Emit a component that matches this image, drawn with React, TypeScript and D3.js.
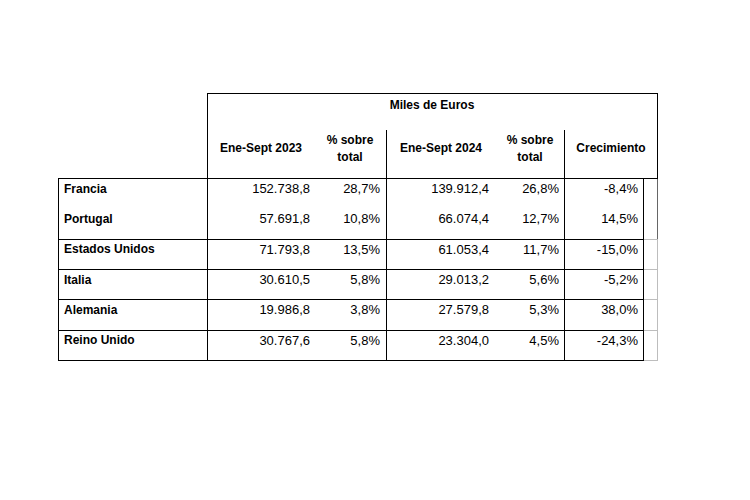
import React from 'react';
import * as d3 from 'd3';

const width = 750, height = 500;

// table data
const countries = ['Francia', 'Portugal', 'Estados Unidos', 'Italia', 'Alemania', 'Reino Unido'];
const values2023 = [152738.8, 57691.8, 71793.8, 30610.5, 19986.8, 30767.6];
const share2023 = [28.7, 10.8, 13.5, 5.8, 3.8, 5.8];
const values2024 = [139912.4, 66074.4, 61053.4, 29013.2, 27579.8, 23304.0];
const share2024 = [26.8, 12.7, 11.7, 5.6, 5.3, 4.5];
const growth = [-8.4, 14.5, -15.0, -5.2, 38.0, -24.3];

const groupTitle = 'Miles de Euros';
const headers = [['Ene-Sept 2023'], ['% sobre', 'total'], ['Ene-Sept 2024'], ['% sobre', 'total'], ['Crecimiento']];

// spanish number format, plain hyphen for negatives
const es = d3.formatLocale({ decimal: ',', thousands: '.', grouping: [3], currency: ['', '€'], minus: '-' });
const fmtVal = es.format(',.1f');
const fmtPct = (v: number) => es.format('.1f')(v) + '%';

// grid positions
const left = 58, firstCol = 207, col3 = 386, col5 = 564, bodyRight = 643, right = 657;
const top = 93, subTop = 130, headBottom = 178, bottom = 360;

const font = "'Liberation Sans', Arial, sans-serif";

export default function App() {
    const yScale = d3.scaleBand<string>()
        .domain(countries)
        .range([headBottom, bottom]);

    // right edges of value cells and centres of header cells
    const valueEdges = [310, 380, 489, 559, 638];
    const headerCentres = [261, 350, 441, 530, 611];

    const rows = countries.map((c, i) => ({
        name: c,
        cells: [fmtVal(values2023[i]), fmtPct(share2023[i]), fmtVal(values2024[i]), fmtPct(share2024[i]), fmtPct(growth[i])]
    }));

    const black = '#000';
    const gray = '#bdbdbd';
    const p = (v: number) => Math.round(v) + 0.5; // crisp 1px lines
    const usY = yScale('Estados Unidos')!;

    return (
        <svg width={width} height={height} style={{ position: 'absolute', left: 0, top: 0, background: '#fff' }}>
            <rect width={width} height={height} fill="#fff" />
            <g strokeWidth={1} shapeRendering="crispEdges">
                {/* header frame */}
                <line x1={firstCol} x2={right + 1} y1={p(top)} y2={p(top)} stroke={black} />
                <line x1={p(right)} x2={p(right)} y1={top} y2={headBottom} stroke={black} />
                <line x1={p(right)} x2={p(right)} y1={headBottom} y2={usY} stroke="#666" />
                <line x1={p(right)} x2={p(right)} y1={usY} y2={bottom + 1} stroke={gray} />
                <line x1={p(firstCol)} x2={p(firstCol)} y1={top} y2={bottom + 1} stroke={black} />
                <line x1={p(col3)} x2={p(col3)} y1={subTop} y2={bottom + 1} stroke={black} />
                <line x1={p(col5)} x2={p(col5)} y1={subTop} y2={bottom + 1} stroke={black} />
                <line x1={left} x2={right + 1} y1={p(headBottom)} y2={p(headBottom)} stroke={black} />
                <line x1={p(left)} x2={p(left)} y1={headBottom} y2={bottom + 1} stroke={black} />
                <line x1={p(bodyRight)} x2={p(bodyRight)} y1={headBottom} y2={bottom + 1} stroke={black} />

                {/* row lines, Francia and Portugal share a block */}
                {countries.map((c, i) => {
                    if (i === 0) return null;
                    const y = p(yScale(c)! + yScale.bandwidth());
                    return (
                        <g key={c}>
                            <line x1={left} x2={bodyRight} y1={y} y2={y} stroke={black} />
                            <line x1={bodyRight + 1} x2={right} y1={y} y2={y} stroke={gray} />
                        </g>
                    );
                })}
            </g>

            {/* header text */}
            <text x={(firstCol + right) / 2} y={106} textAnchor="middle" dominantBaseline="middle"
                fontFamily={font} fontWeight="bold" fontSize={12}>{groupTitle}</text>
            {headers.map((h, i) => (
                <text key={i} x={headerCentres[i]} textAnchor="middle" dominantBaseline="middle"
                    fontFamily={font} fontWeight="bold" fontSize={12}>
                    {h.length === 1
                        ? <tspan x={headerCentres[i]} y={149}>{h[0]}</tspan>
                        : h.map((t, j) => <tspan key={j} x={headerCentres[i]} y={141 + j * 17}>{t}</tspan>)}
                </text>
            ))}

            {/* body */}
            {rows.map(r => {
                const cy = yScale(r.name)! + 11.5;
                return (
                    <g key={r.name}>
                        <text x={64} y={cy} dominantBaseline="middle" fontFamily={font}
                            fontWeight="bold" fontSize={12}>{r.name}</text>
                        {r.cells.map((t, j) => (
                            <text key={j} x={valueEdges[j]} y={cy} textAnchor="end" dominantBaseline="middle"
                                fontFamily={font} fontSize={13}>{t}</text>
                        ))}
                    </g>
                );
            })}
        </svg>
    );
}
